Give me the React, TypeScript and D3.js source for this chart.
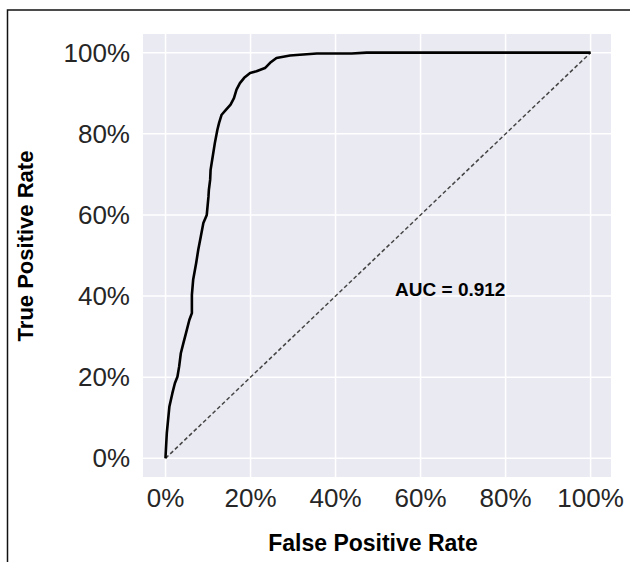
import React, { useEffect, useRef } from 'react';
import * as d3 from 'd3';

// ROC curve points
const fpr = [0, 0, 0.003, 0.009, 0.016, 0.022, 0.028, 0.032, 0.036, 0.042, 0.048, 0.056, 0.062, 0.062, 0.065, 0.072, 0.077, 0.083, 0.089, 0.097, 0.101, 0.102, 0.105, 0.106, 0.111, 0.116, 0.122, 0.126, 0.132, 0.142, 0.153, 0.161, 0.167, 0.175, 0.185, 0.199, 0.214, 0.234, 0.246, 0.261, 0.277, 0.293, 0.316, 0.356, 0.438, 0.473, 1.0];
const tpr = [0, 0.004, 0.062, 0.127, 0.16, 0.185, 0.201, 0.226, 0.259, 0.284, 0.308, 0.341, 0.358, 0.403, 0.44, 0.481, 0.514, 0.547, 0.58, 0.6, 0.645, 0.662, 0.687, 0.711, 0.744, 0.777, 0.81, 0.827, 0.847, 0.859, 0.872, 0.888, 0.909, 0.925, 0.938, 0.95, 0.954, 0.962, 0.975, 0.987, 0.99, 0.993, 0.995, 0.998, 0.998, 1.0, 1.0];

const tickValues = [0, 0.2, 0.4, 0.6, 0.8, 1.0];
const aucLabel = 'AUC = 0.912';
const aucPos = [0.54, 0.4];

const RocChart = () => {
  const svgRef = useRef<SVGSVGElement>(null);

  useEffect(() => {
    const W = 630, H = 562;
    const plot = { left: 143, top: 34, right: 611, bottom: 477 };
    const font = "'Liberation Sans', Arial, sans-serif";

    const svg = d3.select(svgRef.current);
    svg.selectAll('*').remove();
    svg.attr('width', W).attr('height', H);

    svg.append('rect').attr('width', W).attr('height', H).attr('fill', '#fff');

    // outer frame (top + left only)
    svg.append('path')
      .attr('d', `M7.5,${H} V10 H${W}`)
      .attr('fill', 'none')
      .attr('stroke', '#111')
      .attr('stroke-width', 1.5);

    const x = d3.scaleLinear().domain([-0.053, 1.048]).range([plot.left, plot.right]);
    const y = d3.scaleLinear().domain([-0.046, 1.046]).range([plot.bottom, plot.top]);

    svg.append('rect')
      .attr('x', plot.left).attr('y', plot.top)
      .attr('width', plot.right - plot.left).attr('height', plot.bottom - plot.top)
      .attr('fill', '#eaeaf2');

    // grid
    const grid = svg.append('g').attr('stroke', '#fff').attr('stroke-width', 1.5);
    tickValues.forEach(t => {
      grid.append('line').attr('x1', x(t)).attr('x2', x(t)).attr('y1', plot.top).attr('y2', plot.bottom);
      grid.append('line').attr('y1', y(t)).attr('y2', y(t)).attr('x1', plot.left).attr('x2', plot.right);
    });

    const fmt = d3.format('.0%');

    // tick labels
    svg.append('g').selectAll('text')
      .data(tickValues).enter().append('text')
      .attr('x', 130).attr('y', d => y(d))
      .attr('dy', '0.35em')
      .attr('text-anchor', 'end')
      .attr('font-family', font).attr('font-size', 26).attr('fill', '#262626')
      .text(d => fmt(d));

    svg.append('g').selectAll('text')
      .data(tickValues).enter().append('text')
      .attr('x', d => x(d)).attr('y', 507)
      .attr('text-anchor', 'middle')
      .attr('font-family', font).attr('font-size', 26).attr('fill', '#262626')
      .text(d => fmt(d));

    // diagonal
    svg.append('line')
      .attr('x1', x(0)).attr('y1', y(0)).attr('x2', x(1)).attr('y2', y(1))
      .attr('stroke', '#444').attr('stroke-width', 1.5)
      .attr('stroke-dasharray', '4,2.5');

    // ROC curve
    const pts = fpr.map((f, i) => [f, tpr[i]] as [number, number]);
    const line = d3.line<[number, number]>().x(d => x(d[0])).y(d => y(d[1]));
    svg.append('path')
      .datum(pts)
      .attr('d', line)
      .attr('fill', 'none')
      .attr('stroke', '#000')
      .attr('stroke-width', 2.6)
      .attr('stroke-linejoin', 'round');

    svg.append('text')
      .attr('x', x(aucPos[0])).attr('y', y(aucPos[1]))
      .attr('font-family', font).attr('font-size', 19).attr('font-weight', 'bold')
      .attr('fill', '#000')
      .text(aucLabel);

    // axis titles
    svg.append('text')
      .attr('x', 373).attr('y', 551)
      .attr('text-anchor', 'middle')
      .attr('font-family', font).attr('font-size', 23).attr('font-weight', 'bold')
      .attr('fill', '#000')
      .text('False Positive Rate');

    svg.append('text')
      .attr('transform', 'translate(33,246) rotate(-90)')
      .attr('text-anchor', 'middle')
      .attr('font-family', font).attr('font-size', 22).attr('font-weight', 'bold')
      .attr('fill', '#000')
      .text('True Positive Rate');
  }, []);

  return <svg ref={svgRef} style={{ position: 'absolute', left: 0, top: 0 }}></svg>;
};

export default function App() {
  return <RocChart />;
}
